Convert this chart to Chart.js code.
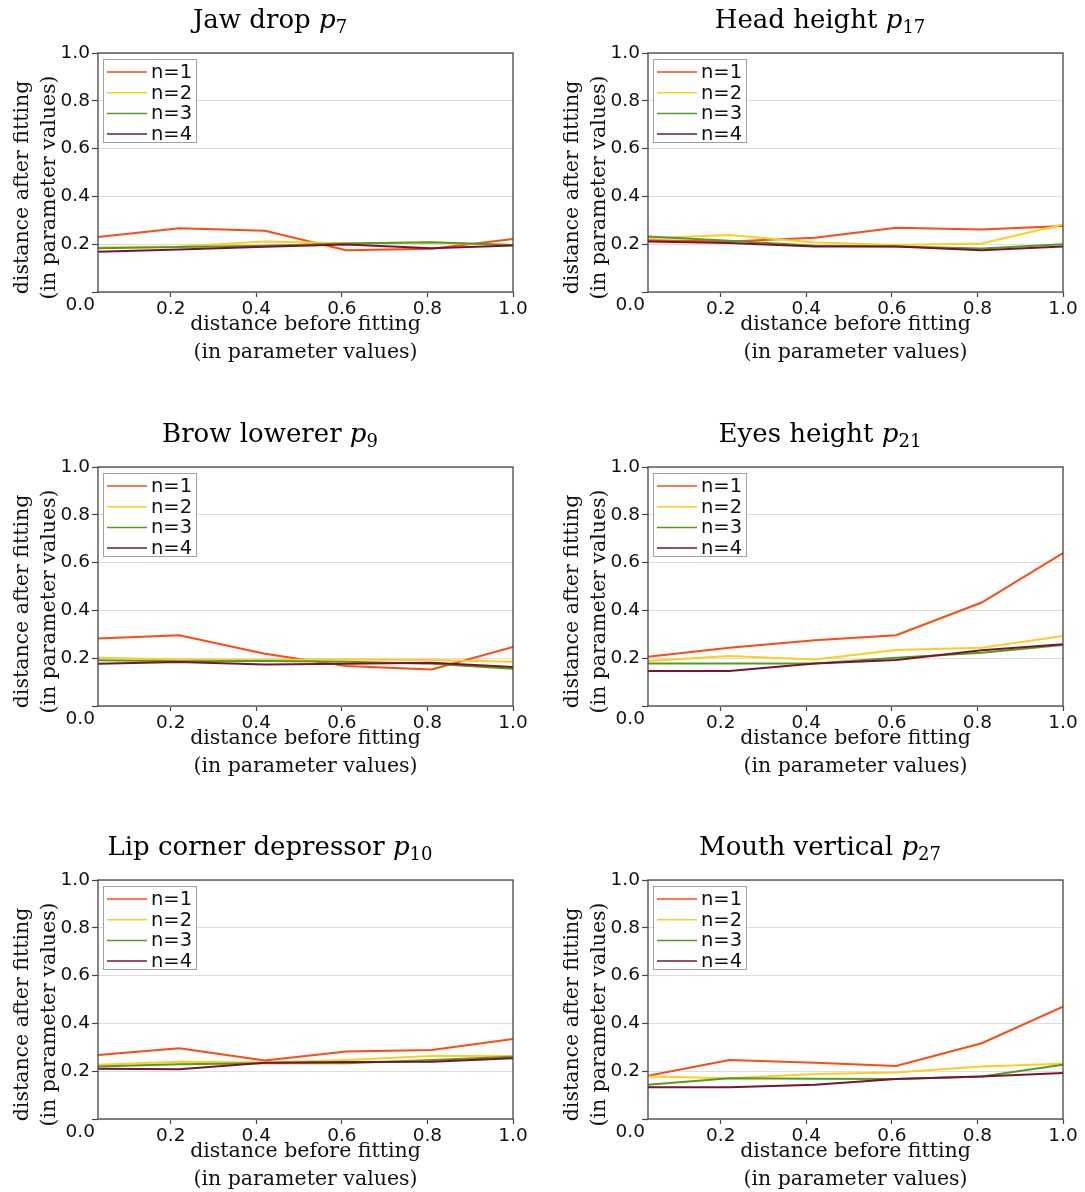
<!DOCTYPE html>
<html>
<head>
<meta charset="utf-8">
<script src="https://cdn.jsdelivr.net/npm/chart.js@4.4.0/dist/chart.umd.min.js"></script>
<style>
  html, body { margin: 0; padding: 0; background: #fff; overflow: hidden; }
  body { position: relative; width: 1085px; height: 1192px; }
  .panel { position: absolute; width: 540px; height: 372px; }
  .panel canvas { position: absolute; left: 0; top: 0; }
  .panel .title {
    position: absolute; left: 0; top: 2px; width: 540px; text-align: center;
    font-family: "DejaVu Serif", serif; font-size: 26px; line-height: 34px; color: #000;
  }
  .panel .title sub { font-size: 18px; vertical-align: -5px; line-height: 0; }
</style>
</head>
<body>
<script>
// x positions of the six runs (distance before fitting)
const distBefore = [0.03, 0.22, 0.42, 0.61, 0.81, 1.0];
const seriesNames = ["n=1", "n=2", "n=3", "n=4"];
const seriesColors = ["#ff4a12", "#ffcc1f", "#4f9e22", "#7c1233"];
const xTicks = [0.2, 0.4, 0.6, 0.8, 1.0];
const yTicks = [0, 0.2, 0.4, 0.6, 0.8, 1.0];

const panelNames = ["Jaw drop", "Head height", "Brow lowerer", "Eyes height", "Lip corner depressor", "Mouth vertical"];
const panelParams = ["7", "17", "9", "21", "10", "27"];

// distance after fitting, one row per n
const jawDrop = [
  [0.230, 0.267, 0.256, 0.175, 0.181, 0.222],
  [0.186, 0.190, 0.211, 0.204, 0.207, 0.197],
  [0.183, 0.188, 0.193, 0.203, 0.208, 0.197],
  [0.168, 0.178, 0.189, 0.199, 0.183, 0.195]
];
const headHeight = [
  [0.217, 0.211, 0.227, 0.269, 0.262, 0.276],
  [0.225, 0.239, 0.207, 0.197, 0.203, 0.283],
  [0.232, 0.214, 0.193, 0.190, 0.182, 0.200],
  [0.211, 0.205, 0.190, 0.190, 0.175, 0.190]
];
const browLowerer = [
  [0.282, 0.296, 0.219, 0.167, 0.153, 0.247],
  [0.202, 0.195, 0.192, 0.195, 0.192, 0.185],
  [0.191, 0.187, 0.188, 0.185, 0.177, 0.156],
  [0.177, 0.184, 0.174, 0.177, 0.181, 0.163]
];
const eyesHeight = [
  [0.206, 0.244, 0.275, 0.296, 0.433, 0.640],
  [0.188, 0.209, 0.195, 0.234, 0.244, 0.293],
  [0.178, 0.178, 0.178, 0.202, 0.223, 0.255],
  [0.146, 0.146, 0.178, 0.192, 0.233, 0.258]
];
const lipCornerDepressor = [
  [0.268, 0.296, 0.245, 0.282, 0.289, 0.335],
  [0.227, 0.240, 0.236, 0.247, 0.264, 0.264],
  [0.220, 0.229, 0.233, 0.233, 0.247, 0.260],
  [0.210, 0.208, 0.235, 0.238, 0.240, 0.254]
];
const mouthVertical = [
  [0.181, 0.247, 0.235, 0.222, 0.317, 0.470],
  [0.178, 0.171, 0.188, 0.195, 0.220, 0.231],
  [0.143, 0.171, 0.168, 0.167, 0.178, 0.227],
  [0.133, 0.133, 0.143, 0.167, 0.178, 0.192]
];

const panelData = [jawDrop, headHeight, browLowerer, eyesHeight, lipCornerDepressor, mouthVertical];

const yTitle = ["distance after fitting", "(in parameter values)"];
const xTitle = ["distance before fitting", "(in parameter values)"];

const tickFont = { family: "DejaVu Sans", size: 18.5 };
const serifFamily = "DejaVu Serif";

// frame, y title, the corner "0.0" and the legend box
const panelDecor = {
  id: "panelDecor",
  afterDraw(chart) {
    const ctx = chart.ctx;
    const a = chart.chartArea;
    ctx.save();

    ctx.strokeStyle = "#444";
    ctx.lineWidth = 1.3;
    ctx.strokeRect(a.left, a.top, a.right - a.left, a.bottom - a.top);

    ctx.fillStyle = "#111";
    ctx.font = "18.5px 'DejaVu Sans'";
    ctx.textAlign = "right";
    ctx.textBaseline = "middle";
    ctx.fillText("0.0", a.left - 3, a.bottom + 13);

    // rotated y title, two lines
    ctx.font = "20.5px '" + serifFamily + "'";
    ctx.textAlign = "center";
    const midY = (a.top + a.bottom) / 2 + 15;
    yTitle.forEach((line, i) => {
      ctx.save();
      ctx.translate(a.left - 75 + i * 27, midY);
      ctx.rotate(-Math.PI / 2);
      ctx.fillText(line, 0, 0);
      ctx.restore();
    });

    // legend
    const lx = a.left + 5, ly = a.top + 6, lw = 93, lh = 83;
    ctx.fillStyle = "rgba(255,255,255,0.85)";
    ctx.fillRect(lx, ly, lw, lh);
    ctx.strokeStyle = "#a0a0a0";
    ctx.lineWidth = 1;
    ctx.strokeRect(lx + 0.5, ly + 0.5, lw, lh);
    ctx.font = "19.5px 'DejaVu Sans'";
    ctx.textAlign = "left";
    chart.data.datasets.forEach((ds, i) => {
      const y = ly + 13 + i * 20.7;
      ctx.strokeStyle = ds.borderColor;
      ctx.lineWidth = 1.5;
      ctx.beginPath();
      ctx.moveTo(lx + 4, y);
      ctx.lineTo(lx + 44, y);
      ctx.stroke();
      ctx.fillStyle = "#111";
      ctx.fillText(ds.label, lx + 48, y + 1);
    });

    ctx.restore();
  }
};

function makePanel(index) {
  const col = index % 2;
  const row = Math.floor(index / 2);

  const panel = document.createElement("div");
  panel.className = "panel";
  panel.style.left = (col * 550) + "px";
  panel.style.top = (row * 413.6) + "px";

  const title = document.createElement("div");
  title.className = "title";
  title.innerHTML = panelNames[index] + " <i>p</i><sub>" + panelParams[index] + "</sub>";

  const canvas = document.createElement("canvas");
  canvas.width = 540;
  canvas.height = 372;

  panel.appendChild(canvas);
  panel.appendChild(title);
  document.body.appendChild(panel);

  const rows = panelData[index];

  new Chart(canvas, {
    type: "line",
    data: {
      datasets: rows.map((vals, i) => ({
        label: seriesNames[i],
        data: distBefore.map((x, k) => ({ x: x, y: vals[k] })),
        borderColor: seriesColors[i],
        borderWidth: 2,
        pointRadius: 0,
        tension: 0,
        order: rows.length - i
      }))
    },
    options: {
      responsive: false,
      animation: false,
      layout: { padding: { top: 53, right: 27, left: 0, bottom: 0 } },
      plugins: {
        legend: { display: false },
        tooltip: { enabled: false },
        title: { display: false }
      },
      scales: {
        x: {
          type: "linear",
          min: distBefore[0],
          max: 1.0,
          afterBuildTicks: (s) => { s.ticks = xTicks.map(v => ({ value: v })); },
          afterFit: (s) => { s.height = 80; },
          ticks: {
            font: tickFont,
            color: "#111",
            padding: 1,
            maxRotation: 0,
            autoSkip: false,
            callback: (v) => Number(v).toFixed(1)
          },
          grid: { drawOnChartArea: false, tickLength: 5, tickColor: "#444", tickWidth: 1.2 },
          border: { display: false },
          title: {
            display: true,
            text: xTitle,
            color: "#111",
            font: { family: serifFamily, size: 20.5, lineHeight: 28 / 20.5 },
            padding: { top: 0, bottom: 5 }
          }
        },
        y: {
          type: "linear",
          min: 0,
          max: 1,
          afterBuildTicks: (s) => { s.ticks = yTicks.map(v => ({ value: v })); },
          afterFit: (s) => { s.width = 98; },
          ticks: {
            font: tickFont,
            color: "#111",
            padding: 2,
            callback: (v) => (v === 0 ? "" : Number(v).toFixed(1))
          },
          grid: { color: "#dddddd", lineWidth: 1, tickLength: 6, tickColor: "#444", tickWidth: 1.2 },
          border: { display: false }
        }
      }
    },
    plugins: [panelDecor]
  });
}

panelNames.forEach((_, i) => makePanel(i));
</script>
</body>
</html>
